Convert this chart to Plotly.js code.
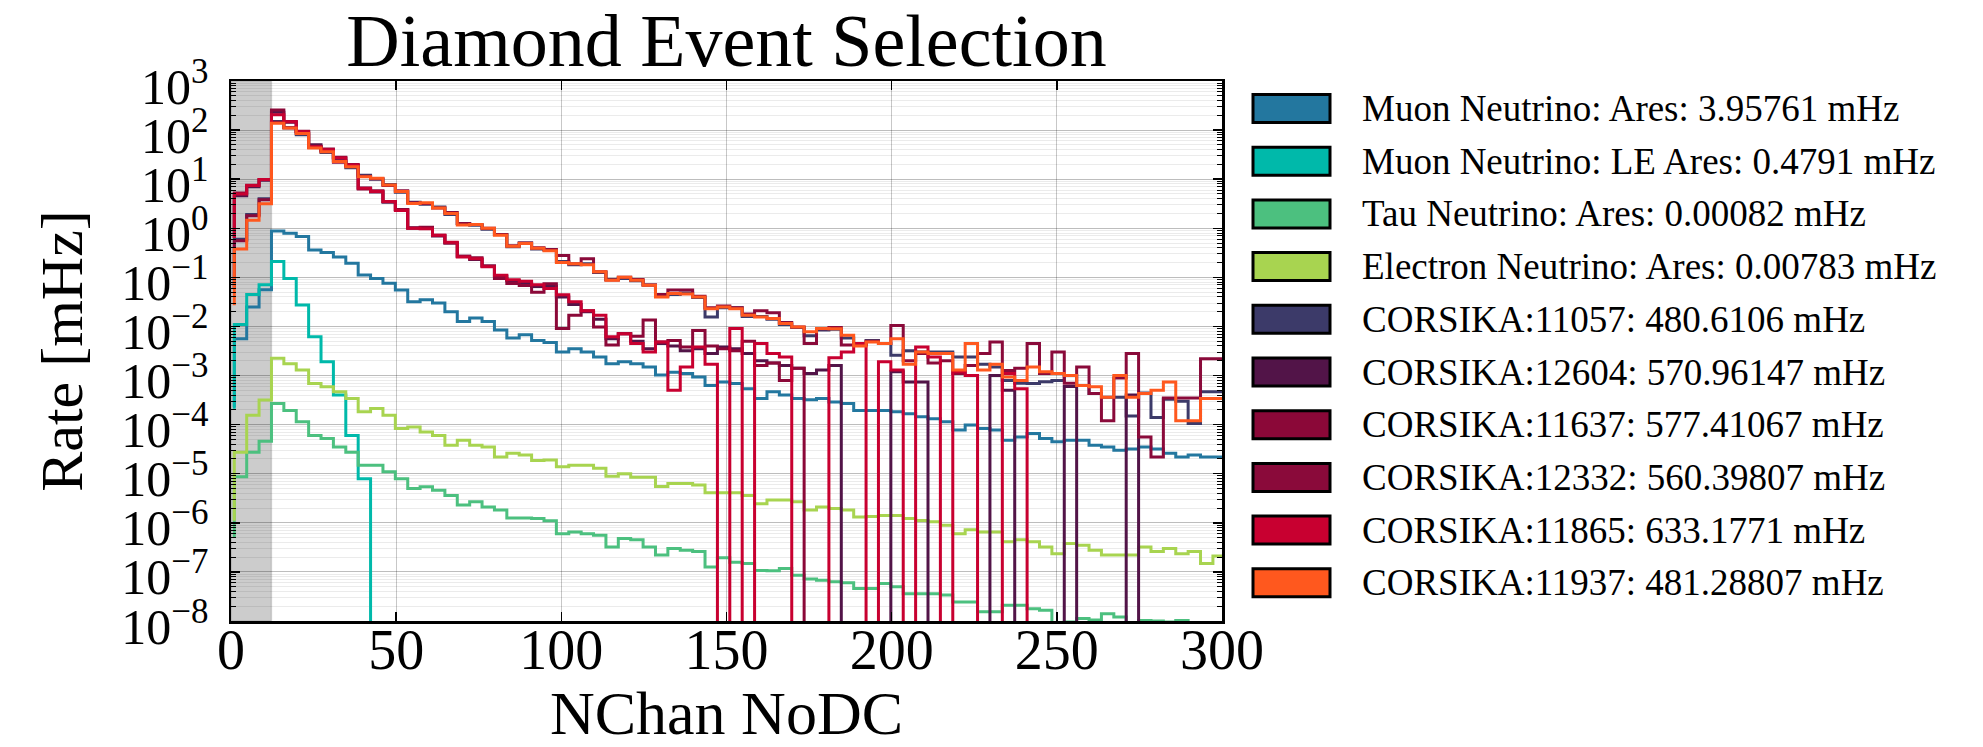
<!DOCTYPE html>
<html>
<head>
<meta charset="utf-8">
<script src="https://cdn.plot.ly/plotly-3.0.1.min.js"></script>
<style>
html, body { margin: 0; padding: 0; background: #ffffff; }
#chart { width: 1983px; height: 747px; }
</style>
</head>
<body>
<div id="chart"></div>
<script>
// ---------------- DATA ----------------
// Histogram bin edges (NChan NoDC)
const binEdges = [1, 4.75, 8.5, 12.25, 16, 19.75, 23.5, 27.25, 31, 34.75, 38.5, 42.25, 46, 49.75, 53.5, 57.25,
  61, 64.75, 68.5, 72.25, 76, 79.75, 83.5, 87.25, 91, 94.75, 98.5, 102.25, 106, 109.75, 113.5, 117.25,
  121, 124.75, 128.5, 132.25, 136, 139.75, 143.5, 147.25, 151, 154.75, 158.5, 162.25, 166, 169.75, 173.5, 177.25,
  181, 184.75, 188.5, 192.25, 196, 199.75, 203.5, 207.25, 211, 214.75, 218.5, 222.25, 226, 229.75, 233.5, 237.25,
  241, 244.75, 248.5, 252.25, 256, 259.75, 263.5, 267.25, 271, 274.75, 278.5, 282.25, 286, 289.75, 293.5, 297.25, 301];

// Rates per bin [mHz]
const rateMuonAres = [0.0056, 0.025, 0.056, 0.88, 0.79, 0.68, 0.36, 0.32, 0.26, 0.195,
  0.112, 0.095, 0.076, 0.055, 0.032, 0.035, 0.030, 0.020, 0.0126, 0.0148,
  0.0126, 0.0085, 0.0058, 0.0068, 0.0052, 0.0047, 0.0030, 0.0035, 0.0030, 0.0024,
  0.00174, 0.0019, 0.00174, 0.0015, 0.00102, 0.00117, 0.0011, 0.00093, 0.00063, 0.00074,
  0.00069, 0.00054, 0.00034, 0.00047, 0.00040, 0.00034, 0.00032, 0.00034, 0.00029, 0.00027,
  0.000195, 0.000195, 0.000195, 0.000182, 0.000166, 0.000145, 0.000132, 0.000115, 0.000078, 0.000098,
  0.000083, 0.000078, 0.000048, 0.000056, 0.000066, 0.000052, 0.000045, 0.000048, 0.000048, 0.000038,
  0.000035, 0.000030, 0.000032, 0.000035, 0.000032, 0.000026, 0.000022, 0.000024, 0.000022, 0.000022];

const rateMuonLEAres = [0.011, 0.045, 0.071, 0.21, 0.095, 0.0275, 0.0062, 0.0019, 0.0004, 0.00006,
  0.0000079, 0, 0, 0, 0, 0, 0, 0, 0, 0,
  0, 0, 0, 0, 0, 0, 0, 0, 0, 0,
  0, 0, 0, 0, 0, 0, 0, 0, 0, 0,
  0, 0, 0, 0, 0, 0, 0, 0, 0, 0,
  0, 0, 0, 0, 0, 0, 0, 0, 0, 0,
  0, 0, 0, 0, 0, 0, 0, 0, 0, 0,
  0, 0, 0, 0, 0, 0, 0, 0, 0, 0];

const rateTauAres = [8.7e-6, 2.75e-5, 4.6e-5, 2.7e-4, 1.95e-4, 1.15e-4, 6.0e-5, 5.2e-5, 3.5e-5, 2.75e-5,
  1.48e-5, 1.48e-5, 1.1e-5, 7.9e-6, 5.0e-6, 5.4e-6, 4.6e-6, 3.6e-6, 2.3e-6, 2.7e-6,
  2.1e-6, 1.82e-6, 1.26e-6, 1.26e-6, 1.23e-6, 1.1e-6, 6.0e-7, 6.5e-7, 6.0e-7, 5.6e-7,
  3.2e-7, 4.8e-7, 4.5e-7, 3.2e-7, 2.2e-7, 3.0e-7, 2.75e-7, 2.6e-7, 1.26e-7, 1.95e-7,
  1.58e-7, 1.48e-7, 1.07e-7, 1.05e-7, 1.17e-7, 8.5e-8, 7.2e-8, 6.8e-8, 6.3e-8, 6.0e-8,
  4.6e-8, 4.6e-8, 5.8e-8, 5.0e-8, 3.6e-8, 3.6e-8, 3.6e-8, 3.4e-8, 2.45e-8, 2.45e-8,
  1.55e-8, 1.55e-8, 2.1e-8, 2.1e-8, 1.78e-8, 1.66e-8, 8.9e-9, 9.5e-9, 1.12e-8, 1.05e-8,
  1.41e-8, 1.2e-8, 7.9e-9, 1.02e-8, 1.0e-8, 9.5e-9, 1.02e-8, 7.9e-9, 7.9e-9, 7.1e-9];

const rateElectronAres = [2.75e-5, 1.55e-4, 3.16e-4, 2.24e-3, 1.74e-3, 1.29e-3, 6.9e-4, 5.9e-4, 4.7e-4, 3.4e-4,
  1.82e-4, 2.14e-4, 1.55e-4, 8.3e-5, 8.9e-5, 7.1e-5, 6.0e-5, 3.8e-5, 4.8e-5, 3.8e-5,
  3.5e-5, 2.2e-5, 2.6e-5, 2.4e-5, 1.86e-5, 1.9e-5, 1.38e-5, 1.48e-5, 1.48e-5, 1.29e-5,
  8.9e-6, 1.0e-5, 8.5e-6, 8.5e-6, 5.5e-6, 6.3e-6, 6.3e-6, 5.9e-6, 4.1e-6, 4.1e-6,
  4.1e-6, 3.6e-6, 2.45e-6, 2.9e-6, 2.9e-6, 2.7e-6, 1.82e-6, 2.1e-6, 1.95e-6, 1.82e-6,
  1.32e-6, 1.35e-6, 1.41e-6, 1.41e-6, 1.23e-6, 1.12e-6, 1.05e-6, 8.9e-7, 6.0e-7, 7.2e-7,
  6.5e-7, 6.5e-7, 4.1e-7, 4.5e-7, 4.1e-7, 3.2e-7, 2.35e-7, 3.8e-7, 3.5e-7, 2.75e-7,
  2.2e-7, 2.2e-7, 2.2e-7, 3.2e-7, 2.6e-7, 3.0e-7, 2.35e-7, 2.6e-7, 1.48e-7, 2.1e-7];

const rateCorsika11057 = [0.60, 1.9, 4.0, 150, 112, 80, 45, 35, 24, 17,
  12, 10, 7.8, 5.4, 3.4, 3.1, 2.7, 1.9, 1.25, 1.15,
  0.95, 0.75, 0.42, 0.50, 0.38, 0.36, 0.21, 0.18, 0.19, 0.125,
  0.09, 0.095, 0.085, 0.070, 0.042, 0.045, 0.048, 0.039, 0.0155, 0.024,
  0.024, 0.016, 0.016, 0.014, 0.011, 0.0095, 0.0065, 0.0085, 0.0088, 0.0058,
  0.0042, 0.0052, 0.0045, 0.0026, 0.0032, 0.0030, 0.0030, 0.0030, 0.0024, 0.0024,
  0.0017, 0.0015, 0.00079, 0.00070, 0.00069, 0.00075, 0.00079, 0.0010, 0.00063, 0.00043,
  0.00036, 0.00036, 0.00015, 0.00044, 0.00014, 0.00033, 0.00030, 0.000105, 0.00047, 0.00047];

const rateCorsika12604 = [4.6, 7.0, 9.5, 230, 145, 92, 50, 38, 27, 19,
  6.6, 5.5, 3.4, 2.4, 1.02, 1.0, 0.70, 0.50, 0.27, 0.23,
  0.17, 0.105, 0.085, 0.075, 0.065, 0.066, 0.040, 0.028, 0.020, 0.014,
  0.0056, 0.0071, 0.0050, 0.0035, 0.0045, 0.0040, 0.0032, 0.0035, 0.0028, 0.0038,
  0.0035, 0.0028, 0.0020, 0.0018, 0.0016, 0.0014, 0.0011, 0.0013, 0.0016, 0,
  0, 0, 0, 0.0012, 0.00074, 0.00074, 0, 0, 0, 0,
  0, 0.0010, 0.0005, 0, 0, 0, 0, 0.0006, 0, 0,
  0, 0, 0.0004, 0, 0, 0, 0, 0, 0, 0];

const rateCorsika11637 = [5.2, 7.5, 9.8, 257, 150, 95, 47, 41, 28, 20,
  6.3, 5.8, 3.5, 2.4, 1.0, 1.05, 0.72, 0.50, 0.27, 0.25,
  0.17, 0.095, 0.075, 0.068, 0.05, 0.074, 0.0091, 0.017, 0.021, 0.0098,
  0.0042, 0.0071, 0.0063, 0.0135, 0.0048, 0.0052, 0.0038, 0.0083, 0.0040, 0.0035,
  0.0032, 0.0050, 0.0016, 0.0018, 0.00079, 0.0014, 0, 0, 0, 0,
  0, 0, 0, 0, 0, 0, 0, 0, 0, 0,
  0, 0, 0, 0, 0, 0, 0, 0, 0, 0,
  0, 0, 0, 0, 0, 0, 0, 0, 0, 0];

const rateCorsika12332 = [0.56, 1.8, 3.8, 145, 112, 86, 44, 37, 22, 18.5,
  11.5, 10.2, 7.4, 5.8, 3.3, 3.2, 2.6, 2.1, 1.25, 1.2,
  1.0, 0.75, 0.44, 0.50, 0.40, 0.37, 0.28, 0.19, 0.24, 0.13,
  0.088, 0.10, 0.09, 0.07, 0.045, 0.055, 0.055, 0.041, 0.024, 0.026,
  0.024, 0.018, 0.021, 0.019, 0.012, 0.0098, 0.0045, 0.009, 0.0095, 0.0042,
  0.0043, 0.0050, 0.0045, 0.0105, 0.0020, 0.0028, 0.0018, 0.0020, 0.0011, 0.0016,
  0.0028, 0.0048, 0.00126, 0.0014, 0.0045, 0.0011, 0.0030, 0.0007, 0.0015, 0.00043,
  0.00012, 0.00089, 0.0028, 0.000056, 0.000022, 0.00035, 0.00035, 0.00035, 0.0022, 0.0022];

const rateCorsika11865 = [5.0, 7.4, 9.8, 205, 148, 93, 46, 40, 27, 19.5,
  6.5, 5.6, 3.5, 2.3, 1.0, 0.98, 0.72, 0.52, 0.26, 0.24,
  0.165, 0.11, 0.089, 0.083, 0.071, 0.059, 0.044, 0.032, 0.021, 0.017,
  0.0062, 0.0071, 0.0045, 0.0030, 0.0048, 0.0005, 0.0015, 0.0038, 0.0017, 0,
  0.0091, 0, 0.0045, 0.0028, 0.0024, 0, 0, 0, 0.0023, 0.0030,
  0.0045, 0, 0.0019, 0.0013, 0, 0.0038, 0.0024, 0, 0.0012, 0.0010,
  0, 0, 0.0011, 0.00054, 0, 0, 0, 0, 0, 0,
  0, 0, 0, 0, 0, 0, 0, 0, 0, 0];

const rateCorsika11937 = [0.38, 1.45, 3.16, 138, 110, 85, 43, 36, 23, 18,
  11.2, 10.5, 7.6, 5.6, 3.2, 3.3, 2.6, 2.0, 1.17, 1.2,
  1.0, 0.72, 0.43, 0.49, 0.39, 0.35, 0.20, 0.19, 0.18, 0.13,
  0.087, 0.10, 0.087, 0.069, 0.040, 0.047, 0.046, 0.040, 0.023, 0.025,
  0.023, 0.017, 0.0155, 0.0145, 0.0115, 0.0098, 0.0078, 0.0091, 0.009, 0.0066,
  0.0040, 0.0048, 0.0045, 0.0056, 0.0017, 0.0030, 0.0028, 0.0028, 0.0013, 0.0045,
  0.0013, 0.0017, 0.00093, 0.00079, 0.0015, 0.0012, 0.0011, 0.0010, 0.00063, 0.00059,
  0.00036, 0.0010, 0.00036, 0.00043, 0.00050, 0.00074, 0.00012, 0.00012, 0.00034, 0.00034];

// Lower end of the leading edge of each step outline
const stepFloor = [2.3e-4, 2.1e-4, 5.1e-7, 1.1e-6, 0.06, 0.63, 0.63, 0.06, 0.63, 0.027];

const seriesLabels = [
  "Muon Neutrino: Ares: 3.95761 mHz",
  "Muon Neutrino: LE Ares: 0.4791 mHz",
  "Tau Neutrino: Ares: 0.00082 mHz",
  "Electron Neutrino: Ares: 0.00783 mHz",
  "CORSIKA:11057: 480.6106 mHz",
  "CORSIKA:12604: 570.96147 mHz",
  "CORSIKA:11637: 577.41067 mHz",
  "CORSIKA:12332: 560.39807 mHz",
  "CORSIKA:11865: 633.1771 mHz",
  "CORSIKA:11937: 481.28807 mHz"
];
const seriesColors = ["#23779f", "#00b9aa", "#4cc07f", "#a8d450", "#3c3a69",
  "#521448", "#8b0838", "#8a0a3a", "#c80030", "#ff581e"];

const xTickVals = [0, 50, 100, 150, 200, 250, 300];
const yTickExponents = [-8, -7, -6, -5, -4, -3, -2, -1, 0, 1, 2, 3];
const cutRegion = [0, 12.25];

const chartTitle = "Diamond Event Selection";
const xTitle = "NChan NoDC";
const yTitle = "Rate [mHz]";

// ---------------- BUILD ----------------
const seriesValues = [rateMuonAres, rateMuonLEAres, rateTauAres, rateElectronAres, rateCorsika11057,
  rateCorsika12604, rateCorsika11637, rateCorsika12332, rateCorsika11865, rateCorsika11937];

const FONT = "Liberation Serif, 'Times New Roman', Times, serif";
const ZERO_DRAW = 1e-14; // empty bins drop far below the axis (as matplotlib clips log(0))

function stepXY(values, floor) {
  const n = values.length;
  const x = [binEdges[0]], y = [floor];
  for (let i = 0; i < n; i++) {
    x.push(binEdges[i]);
    y.push(values[i] > 0 ? values[i] : ZERO_DRAW);
  }
  x.push(binEdges[n]); y.push(values[n - 1] > 0 ? values[n - 1] : ZERO_DRAW);
  x.push(binEdges[n]); y.push(floor);
  return { x, y };
}

const traces = seriesValues.map((vals, i) => {
  const xy = stepXY(vals, stepFloor[i]);
  return {
    type: "scatter", mode: "lines", x: xy.x, y: xy.y,
    name: seriesLabels[i], showlegend: false, hoverinfo: "skip",
    line: { color: seriesColors[i], width: 3, shape: "hv" }
  };
});

const sup = e => "10<sup>" + (e < 0 ? "\u2212" + (-e) : String(e)) + "</sup>";
const yTickVals = yTickExponents.map(e => Math.pow(10, e));
const yTickText = yTickExponents.map(sup);
const yMinorVals = [];
for (let e = -8; e < 3; e++) for (let m = 2; m <= 9; m++) yMinorVals.push(m * Math.pow(10, e));

// plot-area geometry in pixels
const M = { l: 231, r: 761, t: 81, b: 126 };
const PW = 1983 - M.l - M.r, PH = 747 - M.t - M.b;
const px2x = X => (X - M.l) / PW;
const px2y = Y => 1 - (Y - M.t) / PH;

const shapes = [{
  type: "rect", xref: "x", yref: "paper", x0: cutRegion[0], x1: cutRegion[1], y0: 0, y1: 1,
  fillcolor: "rgba(0,0,0,0.2)", line: { width: 1.5, color: "rgba(0,0,0,0.12)" }, layer: "below"
}];
const annotations = [];
seriesLabels.forEach((lab, i) => {
  const yc = 108.5 + 52.7 * i;
  shapes.push({
    type: "rect", xref: "paper", yref: "paper",
    x0: px2x(1253), x1: px2x(1330), y0: px2y(yc + 14), y1: px2y(yc - 14),
    fillcolor: seriesColors[i], line: { color: "#000", width: 3 }, layer: "above"
  });
  annotations.push({
    xref: "paper", yref: "paper", x: px2x(1360), y: px2y(yc), xanchor: "left", yanchor: "middle",
    text: lab, showarrow: false, font: { family: FONT, size: 37, color: "#000" }
  });
});

const layout = {
  width: 1983, height: 747,
  paper_bgcolor: "#ffffff", plot_bgcolor: "rgba(0,0,0,0)",
  margin: M,
  showlegend: false,
  title: {
    text: chartTitle, font: { family: FONT, size: 74, color: "#000" },
    x: 0.5, xref: "paper", xanchor: "center", y: 1 - 40 / 747, yref: "container", yanchor: "middle"
  },
  xaxis: {
    range: [0, 300], tickmode: "array", tickvals: xTickVals, ticktext: xTickVals.map(String),
    ticks: "inside", ticklen: 9, tickwidth: 1.5, tickcolor: "#000",
    showgrid: true, gridcolor: "rgba(0,0,0,0.22)", gridwidth: 1, zeroline: false,
    showline: true, linecolor: "#000", linewidth: 2.5, mirror: "allticks",
    tickfont: { family: FONT, size: 56, color: "#000" }, ticklabelstandoff: -22,
    title: { text: xTitle, font: { family: FONT, size: 62, color: "#000" }, standoff: 26 },
    automargin: false
  },
  yaxis: {
    type: "log", range: [-8, 3], tickmode: "array", tickvals: yTickVals, ticktext: yTickText,
    ticks: "inside", ticklen: 9, tickwidth: 1.5, tickcolor: "#000",
    showgrid: true, gridcolor: "rgba(0,0,0,0.26)", gridwidth: 1, zeroline: false,
    minor: { tickmode: "array", tickvals: yMinorVals, ticks: "inside", ticklen: 5, tickwidth: 1, tickcolor: "#000",
      showgrid: true, gridcolor: "rgba(0,0,0,0.08)", gridwidth: 1 },
    showline: true, linecolor: "#000", linewidth: 2.5, mirror: "allticks",
    tickfont: { family: FONT, size: 50, color: "#000" }, ticklabelstandoff: 10, ticklabelshift: 5,
    title: { text: yTitle, font: { family: FONT, size: 60, color: "#000" }, standoff: 20 },
    automargin: false
  },
  shapes: shapes,
  annotations: annotations
};

Plotly.newPlot("chart", traces, layout, { staticPlot: true, displayModeBar: false });
</script>
</body>
</html>
